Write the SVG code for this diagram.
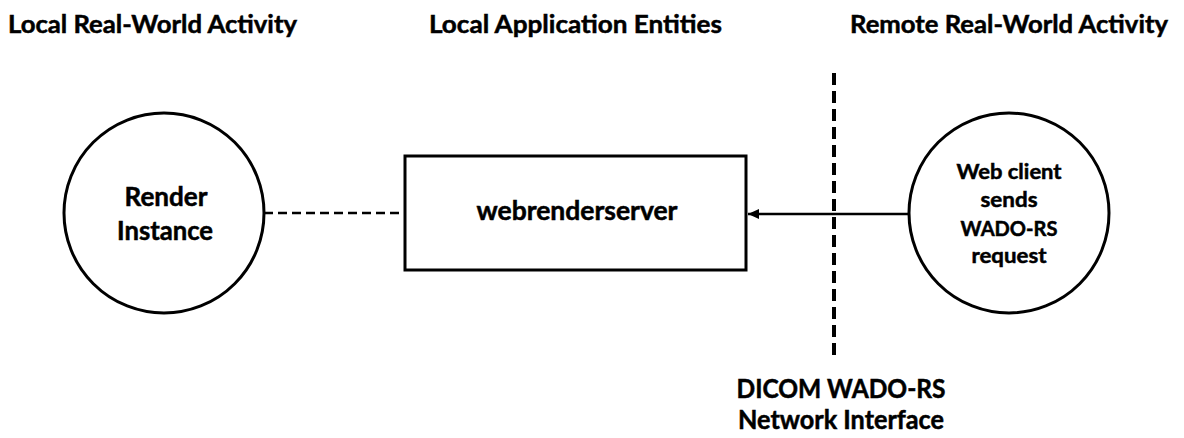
<svg xmlns="http://www.w3.org/2000/svg" width="1184" height="438" viewBox="0 0 1184 438">
<style>
text{font-family:Lato,"Open Sans","Liberation Sans",sans-serif;font-weight:bold;fill:#000;stroke:#000;stroke-width:0.5px}
.title{font-size:25px}
.lbl{font-size:26px;text-anchor:middle}
.sm{font-size:21px;text-anchor:middle}
.shape{fill:#fff;stroke:#000;stroke-width:3}
</style>
<defs>
<marker id="arr" markerWidth="11" markerHeight="10" refX="11" refY="5" orient="auto" markerUnits="userSpaceOnUse">
<path d="M0,0 L11,5 L0,10 Z" fill="#000"/>
</marker>
</defs>
<rect width="1184" height="438" fill="#fff"/>
<g id="titles">
<text class="title" x="8" y="33" textLength="289" lengthAdjust="spacingAndGlyphs">Local Real-World Activity</text>
<text class="title" x="429" y="33" textLength="293" lengthAdjust="spacingAndGlyphs">Local Application Entities</text>
<text class="title" x="850" y="33" textLength="318" lengthAdjust="spacingAndGlyphs">Remote Real-World Activity</text>
</g>
<g id="boundary">
<line x1="834" y1="73" x2="834" y2="355" stroke="#000" stroke-width="4" stroke-dasharray="12,6"/>
<text class="lbl" x="841" y="398" textLength="209" lengthAdjust="spacingAndGlyphs">DICOM WADO-RS</text>
<text class="lbl" x="841" y="429" textLength="206" lengthAdjust="spacingAndGlyphs">Network Interface</text>
</g>
<g id="connectors">
<line x1="264" y1="213" x2="405" y2="213" stroke="#000" stroke-width="2.5" stroke-dasharray="9,5"/>
<line x1="909" y1="214" x2="748" y2="214" stroke="#000" stroke-width="2.5" marker-end="url(#arr)"/>
</g>
<g id="render-instance">
<circle class="shape" cx="164" cy="213" r="100"/>
<text class="lbl" x="166" y="206" textLength="83" lengthAdjust="spacingAndGlyphs">Render</text>
<text class="lbl" x="165" y="240" textLength="96" lengthAdjust="spacingAndGlyphs">Instance</text>
</g>
<g id="webrenderserver">
<rect class="shape" x="405" y="156" width="341" height="114"/>
<text class="lbl" x="577" y="220" textLength="201" lengthAdjust="spacingAndGlyphs">webrenderserver</text>
</g>
<g id="web-client">
<circle class="shape" cx="1009" cy="213" r="100"/>
<text class="sm" x="1009" y="179" textLength="105" lengthAdjust="spacingAndGlyphs">Web client</text>
<text class="sm" x="1009" y="207" textLength="57" lengthAdjust="spacingAndGlyphs">sends</text>
<text class="sm" x="1009" y="236" textLength="97" lengthAdjust="spacingAndGlyphs">WADO-RS</text>
<text class="sm" x="1009" y="263" textLength="75" lengthAdjust="spacingAndGlyphs">request</text>
</g>
</svg>
